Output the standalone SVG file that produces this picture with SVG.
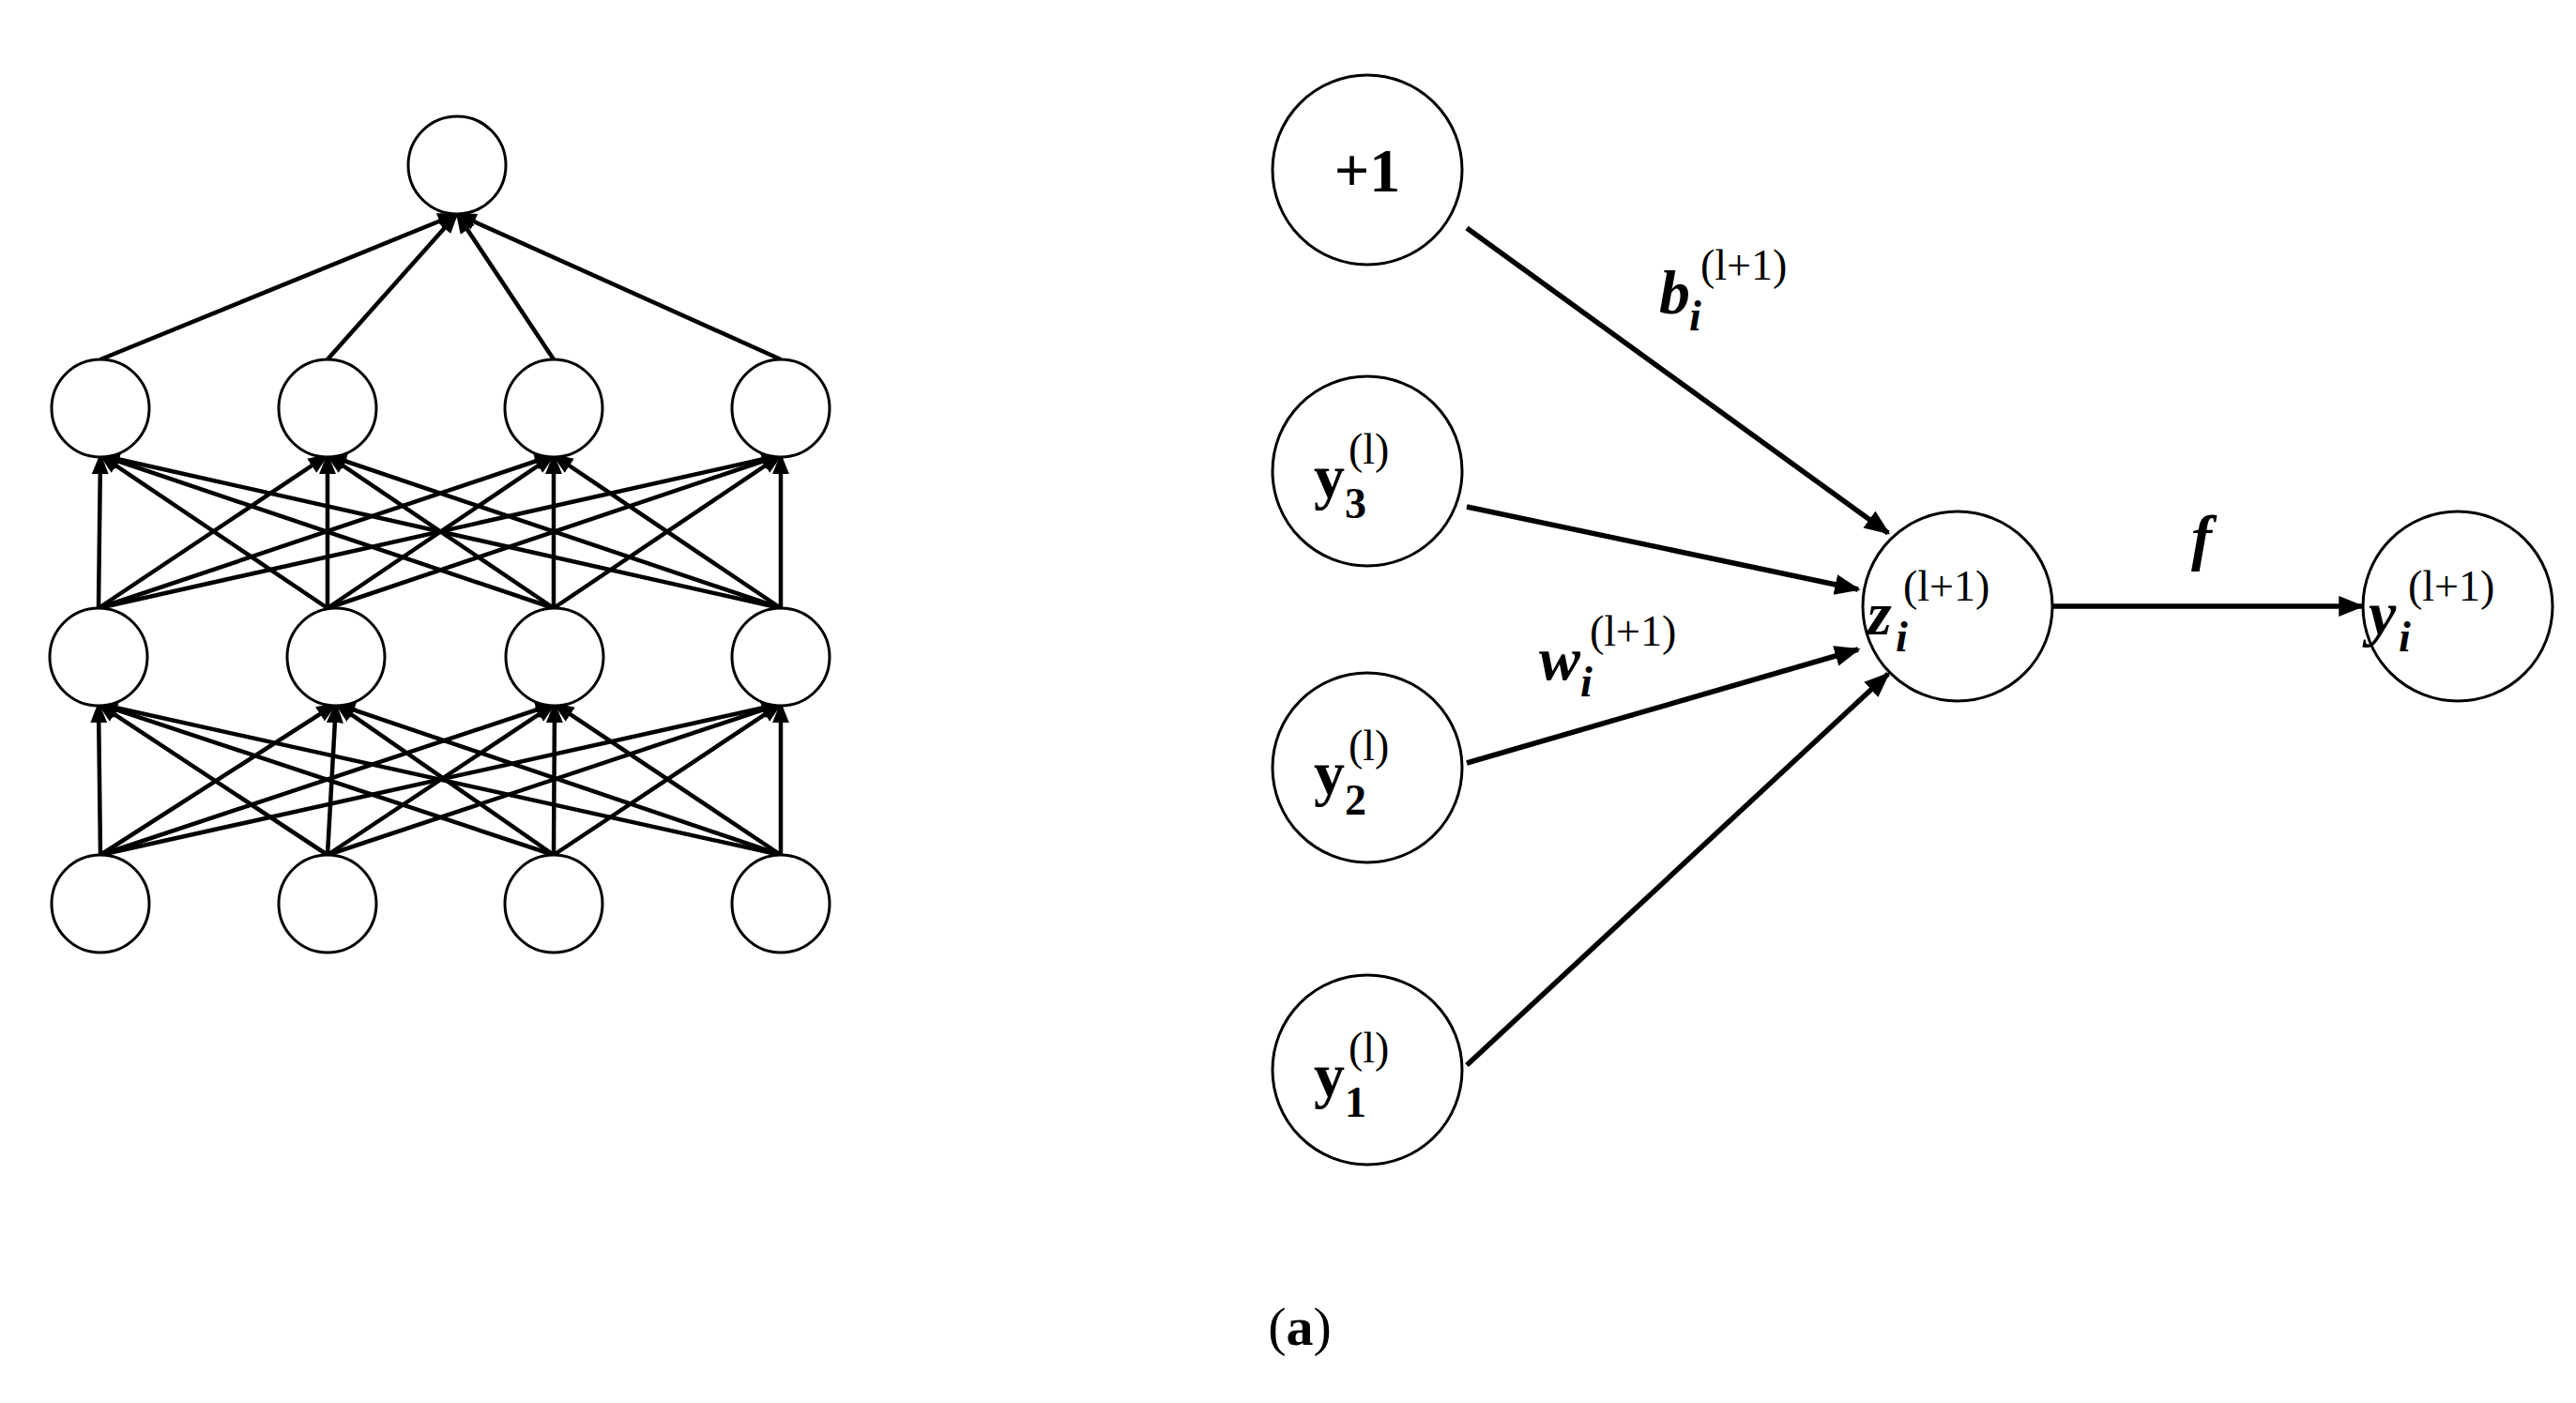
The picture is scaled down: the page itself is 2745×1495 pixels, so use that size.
<svg xmlns="http://www.w3.org/2000/svg" width="2745" height="1495" viewBox="0 0 2745 1495">
<style>
.n{fill:#fff;stroke:#000;stroke-width:3}
.e{stroke:#000;stroke-width:4.5;fill:none;marker-end:url(#a)}
.r{stroke-width:5.5}
.t{font-family:"Liberation Serif",serif;font-weight:bold;fill:#000}
.m{font-size:66px}.s{font-size:46px}.p{font-size:46px;font-weight:normal}.i{font-style:italic}
</style>
<defs>
<marker id="a" viewBox="0 0 10 10" refX="9" refY="5" markerWidth="5" markerHeight="5" orient="auto" markerUnits="strokeWidth"><path d="M0,1 L10,5 L0,9 z" fill="#000"/></marker>
</defs>
<rect width="2745" height="1495" fill="#fff"/>
<g id="connectors">
<line class="e" x1="107" y1="911" x2="105" y2="750"/><line class="e" x1="107" y1="911" x2="358" y2="750"/><line class="e" x1="107" y1="911" x2="591" y2="750"/><line class="e" x1="107" y1="911" x2="832" y2="750"/>
<line class="e" x1="349" y1="911" x2="105" y2="750"/><line class="e" x1="349" y1="911" x2="358" y2="750"/><line class="e" x1="349" y1="911" x2="591" y2="750"/><line class="e" x1="349" y1="911" x2="832" y2="750"/>
<line class="e" x1="590" y1="911" x2="105" y2="750"/><line class="e" x1="590" y1="911" x2="358" y2="750"/><line class="e" x1="590" y1="911" x2="591" y2="750"/><line class="e" x1="590" y1="911" x2="832" y2="750"/>
<line class="e" x1="832" y1="911" x2="105" y2="750"/><line class="e" x1="832" y1="911" x2="358" y2="750"/><line class="e" x1="832" y1="911" x2="591" y2="750"/><line class="e" x1="832" y1="911" x2="832" y2="750"/>
<line class="e" x1="105" y1="648" x2="107" y2="485"/><line class="e" x1="105" y1="648" x2="349" y2="485"/><line class="e" x1="105" y1="648" x2="590" y2="485"/><line class="e" x1="105" y1="648" x2="832" y2="485"/>
<line class="e" x1="349" y1="648" x2="107" y2="485"/><line class="e" x1="349" y1="648" x2="349" y2="485"/><line class="e" x1="349" y1="648" x2="590" y2="485"/><line class="e" x1="349" y1="648" x2="832" y2="485"/>
<line class="e" x1="590" y1="648" x2="107" y2="485"/><line class="e" x1="590" y1="648" x2="349" y2="485"/><line class="e" x1="590" y1="648" x2="590" y2="485"/><line class="e" x1="590" y1="648" x2="832" y2="485"/>
<line class="e" x1="832" y1="648" x2="107" y2="485"/><line class="e" x1="832" y1="648" x2="349" y2="485"/><line class="e" x1="832" y1="648" x2="590" y2="485"/><line class="e" x1="832" y1="648" x2="832" y2="485"/>
<line class="e" x1="107" y1="383" x2="487" y2="228"/><line class="e" x1="349" y1="383" x2="487" y2="228"/><line class="e" x1="590" y1="383" x2="487" y2="228"/><line class="e" x1="832" y1="383" x2="487" y2="228"/>
<line class="e r" x1="1563" y1="243" x2="2012" y2="568"/>
<line class="e r" x1="1563" y1="540" x2="1980" y2="628"/>
<line class="e r" x1="1563" y1="813" x2="1980" y2="692"/>
<line class="e r" x1="1563" y1="1135" x2="2012" y2="718"/>
<line class="e r" x1="2188" y1="646" x2="2517" y2="646"/>
</g>
<g id="nn-nodes">
<circle class="n" cx="487" cy="176" r="52"/>
<circle class="n" cx="107" cy="435" r="52"/><circle class="n" cx="349" cy="435" r="52"/><circle class="n" cx="590" cy="435" r="52"/><circle class="n" cx="832" cy="435" r="52"/>
<circle class="n" cx="105" cy="700" r="52"/><circle class="n" cx="358" cy="700" r="52"/><circle class="n" cx="591" cy="700" r="52"/><circle class="n" cx="832" cy="700" r="52"/>
<circle class="n" cx="107" cy="963" r="52"/><circle class="n" cx="349" cy="963" r="52"/><circle class="n" cx="590" cy="963" r="52"/><circle class="n" cx="832" cy="963" r="52"/>
</g>
<g id="bias"><circle class="n" cx="1457" cy="181" r="101"/><text class="t m" x="1457" y="204" text-anchor="middle">+1</text></g>
<g id="y3"><circle class="n" cx="1457" cy="502" r="101"/><text class="t m" x="1400" y="530">y</text><text class="t s" x="1433" y="552">3</text><text class="t p" x="1437" y="494">(l)</text></g>
<g id="y2"><circle class="n" cx="1457" cy="818" r="101"/><text class="t m" x="1400" y="846">y</text><text class="t s" x="1433" y="868">2</text><text class="t p" x="1437" y="810">(l)</text></g>
<g id="y1"><circle class="n" cx="1457" cy="1140" r="101"/><text class="t m" x="1400" y="1168">y</text><text class="t s" x="1433" y="1190">1</text><text class="t p" x="1437" y="1132">(l)</text></g>
<g id="z"><circle class="n" cx="2086" cy="646" r="101"/><text class="t m i" x="1990" y="676">z</text><text class="t s i" x="2020" y="694">i</text><text class="t p" x="2028" y="640">(l+1)</text></g>
<g id="yi"><circle class="n" cx="2619" cy="646" r="101"/><text class="t m i" x="2524" y="676">y</text><text class="t s i" x="2556" y="694">i</text><text class="t p" x="2566" y="640">(l+1)</text></g>
<g id="labels">
<text class="t m i" x="1768" y="334">b</text><text class="t s i" x="1800" y="352">i</text><text class="t p" x="1812" y="298">(l+1)</text>
<text class="t m i" x="1640" y="724">w</text><text class="t s i" x="1684" y="742">i</text><text class="t p" x="1694" y="688">(l+1)</text>
<text class="t m i" x="2335" y="595">f</text>
<text x="1385" y="1433" text-anchor="middle" font-family="Liberation Serif,serif" font-size="58">(<tspan font-weight="bold">a</tspan>)</text>
</g>
</svg>
